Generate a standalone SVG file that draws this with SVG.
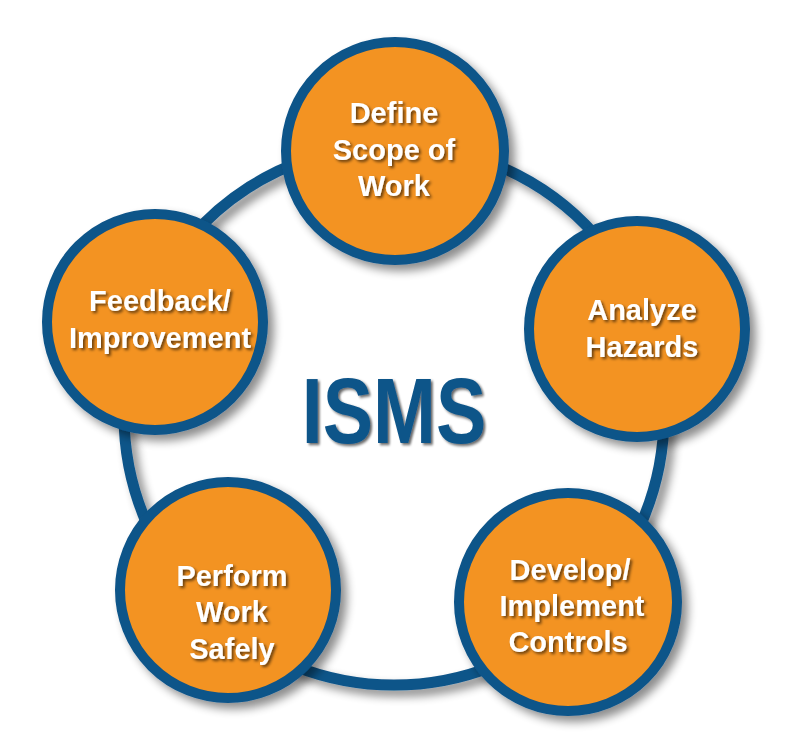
<svg xmlns="http://www.w3.org/2000/svg" width="800" height="753" viewBox="0 0 800 753">
<defs>
<filter id="sh" x="-20%" y="-20%" width="150%" height="150%"><feGaussianBlur in="SourceAlpha" stdDeviation="5"/><feOffset dx="6" dy="6"/><feComponentTransfer><feFuncA type="linear" slope="0.45"/></feComponentTransfer><feMerge><feMergeNode/><feMergeNode in="SourceGraphic"/></feMerge></filter>
<filter id="ts" x="-10%" y="-20%" width="130%" height="160%"><feGaussianBlur in="SourceAlpha" stdDeviation="1.5"/><feOffset dx="2" dy="2"/><feComponentTransfer><feFuncA type="linear" slope="0.6"/></feComponentTransfer><feMerge><feMergeNode/><feMergeNode in="SourceGraphic"/></feMerge></filter>
</defs>
<style>
.c{fill:#f39320;stroke:#0e5489;stroke-width:10;filter:url(#sh)}
.t{fill:#fff;font-family:"Liberation Sans",Arial,sans-serif;font-weight:bold;font-size:29px;text-anchor:middle;filter:url(#ts)}
</style>
<rect width="800" height="753" fill="#fff"/>
<g id="connectors"><circle cx="394" cy="415" r="270" fill="none" stroke="#0e5489" stroke-width="11" filter="url(#sh)"/></g>
<g id="center"><text transform="translate(394 443) scale(0.82 1)" fill="#0e5489" font-family="'Liberation Sans',sans-serif" font-weight="bold" font-size="92" text-anchor="middle" filter="url(#ts)">ISMS</text></g>
<g id="n1"><circle class="c" cx="395" cy="151" r="109"/><text class="t" x="394" y="123">Define</text><text class="t" x="394" y="160">Scope of</text><text class="t" x="394" y="196">Work</text></g>
<g id="n2"><circle class="c" cx="637" cy="329" r="108"/><text class="t" x="642" y="320">Analyze</text><text class="t" x="642" y="357">Hazards</text></g>
<g id="n3"><circle class="c" cx="568" cy="602" r="109"/><text class="t" x="570" y="580">Develop/</text><text class="t" x="572" y="616">Implement</text><text class="t" x="568" y="652">Controls</text></g>
<g id="n4"><circle class="c" cx="228" cy="590" r="108"/><text class="t" x="232" y="586">Perform</text><text class="t" x="232" y="622">Work</text><text class="t" x="232" y="659">Safely</text></g>
<g id="n5"><circle class="c" cx="155" cy="322" r="108"/><text class="t" x="160" y="311">Feedback/</text><text class="t" x="160" y="348">Improvement</text></g>
</svg>
